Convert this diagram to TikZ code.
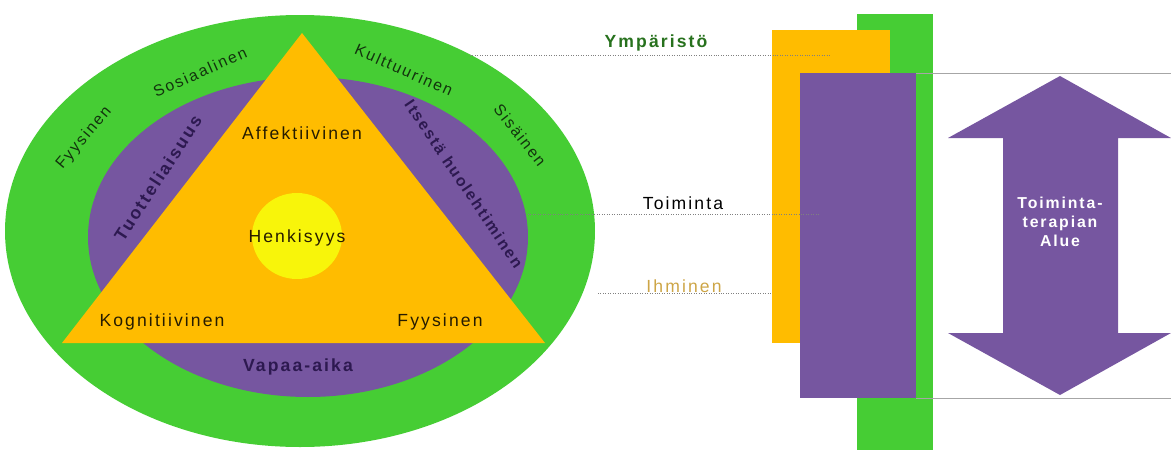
\documentclass[tikz,border=0pt]{standalone}
\usepackage{fontspec}
\setmainfont{Liberation Sans}[LetterSpace=12]
\definecolor{vihrea}{RGB}{70,205,52}
\definecolor{violetti}{RGB}{118,86,160}
\definecolor{oranssi}{RGB}{255,188,0}
\definecolor{keltainen}{RGB}{248,245,10}
\definecolor{tumma}{RGB}{45,25,80}
\definecolor{ihmisvari}{RGB}{205,165,70}
\begin{document}
\begin{tikzpicture}[x=0.02cm, y=-0.02cm, every node/.style={font=\normalsize}]
  \tikzset{rengas/.style={font=\small, text=black!75!vihrea},
           toiminto/.style={font=\normalsize\bfseries, text=tumma},
           osa/.style={font=\normalsize, text=black!85!oranssi},
           apuviiva/.style={gray, densely dotted}}
  \useasboundingbox (0,0) rectangle (1171,450);
  % ympyrat ja kolmio
  \fill[vihrea] (300,231) ellipse [x radius=295, y radius=216];
  \fill[violetti] (308,237) ellipse [x radius=220, y radius=160];
  \fill[oranssi] (302,33) -- (545,343) -- (62,343) -- cycle;
  \fill[keltainen] (297,236) ellipse [x radius=45, y radius=43];
  \node[osa] (affekt) at (302,133) {Affektiivinen};
  \node[osa] (henki) at (297,238) {Henkisyys};
  \node[osa] (kogn) at (162,322) {Kognitiivinen};
  \node[osa] (fyys) at (440,322) {Fyysinen};
  \node[toiminto] (vapaa) at (298,367) {Vapaa-aika};
  \node[toiminto, rotate=57] (tuott) at (158,178) {Tuotteliaisuus};
  \node[toiminto, font=\small\bfseries, rotate=-56] (itse) at (464,184) {Itsestä huolehtiminen};
  \node[rengas, rotate=50] (fyysinen) at (84,138) {Fyysinen};
  \node[rengas, rotate=24] (sosiaal) at (200,72) {Sosiaalinen};
  \node[rengas, rotate=-24] (kultt) at (404,70) {Kulttuurinen};
  \node[rengas, rotate=-52] (sisa) at (520,135) {Sisäinen};
  % palkit
  \fill[vihrea] (857,14) rectangle (933,450);
  \fill[oranssi] (772,30) rectangle (890,343);
  \fill[violetti] (800,73) rectangle (916,398);
  % apuviivat
  \coordinate (ymp0) at (470,55); \coordinate (ymp1) at (830,55);
  \coordinate (toi0) at (528,214); \coordinate (toi1) at (820,214);
  \coordinate (ihm0) at (598,293); \coordinate (ihm1) at (772,293);
  \draw[apuviiva] (ymp0) -- (ymp1);
  \draw[apuviiva] (toi0) -- (toi1);
  \draw[apuviiva] (ihm0) -- (ihm1);
  \node[text=black!45!vihrea, font=\normalsize\bfseries] (ymparisto) at (656,43) {Ympäristö};
  \node (toiminta) at (683,203) {Toiminta};
  \node[text=ihmisvari] (ihminen) at (684,286) {Ihminen};
  \coordinate (raja0) at (916,73); \coordinate (raja1) at (1171,73);
  \coordinate (raja2) at (916,398); \coordinate (raja3) at (1171,398);
  \draw[gray!70] (raja0) -- (raja1);
  \draw[gray!70] (raja2) -- (raja3);
  % kaksisuuntainen nuoli
  \fill[violetti] (1060,76) -- (1171,138) -- (1118,138) -- (1118,333) -- (1171,333)
    -- (1060,395) -- (948,333) -- (1003,333) -- (1003,138) -- (948,138) -- cycle;
  \node[text=white, font=\small\bfseries, align=center] (alue) at (1060,222)
    {Toiminta-\\terapian\\Alue};
\end{tikzpicture}
\end{document}
